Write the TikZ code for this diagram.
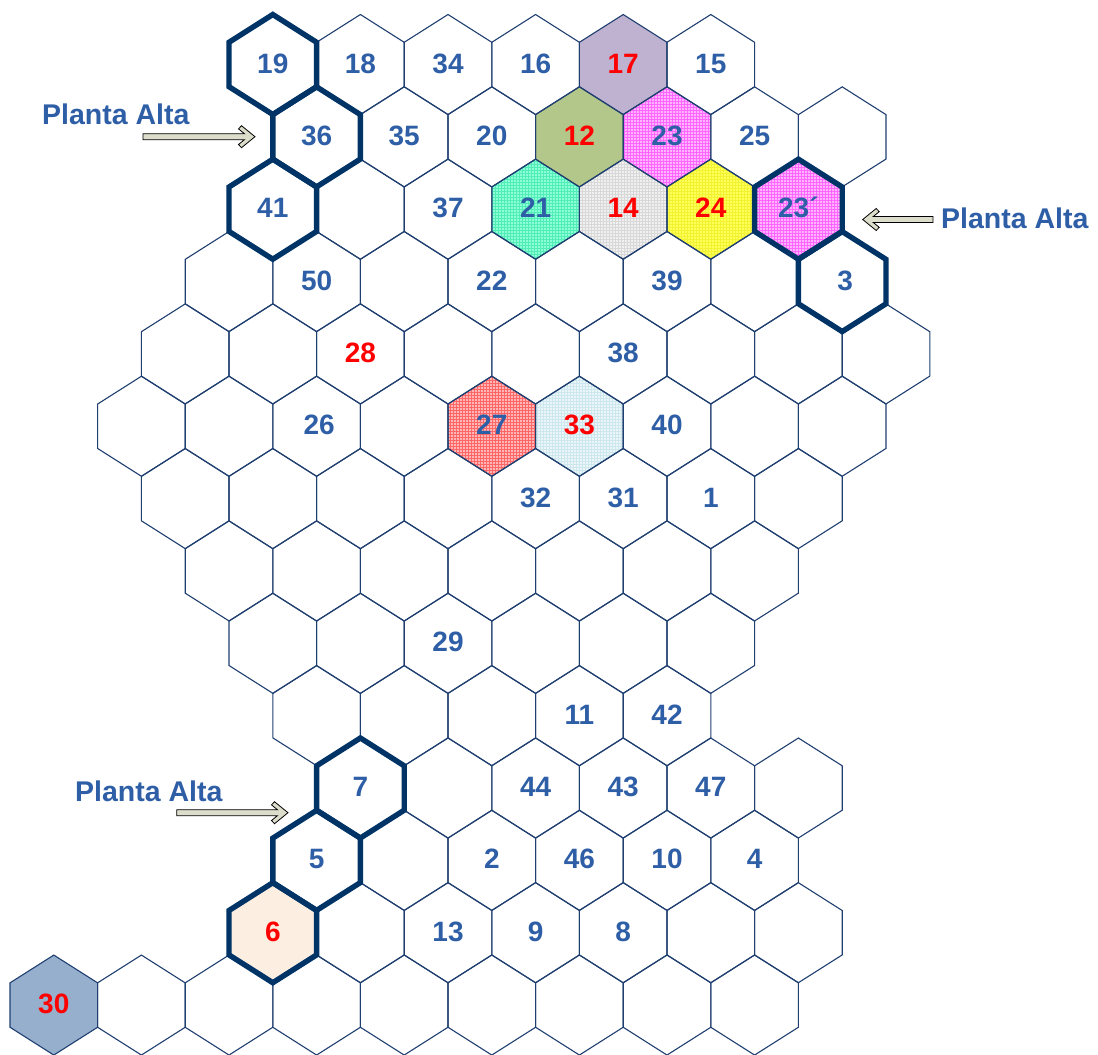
\documentclass[tikz,border=0pt]{standalone}
\usepackage{fontspec}
\setmainfont{Liberation Sans}
\usetikzlibrary{patterns}
\definecolor{lblue}{HTML}{2E5EA6}
\definecolor{lred}{HTML}{FF0000}
\definecolor{hexedge}{HTML}{1F3F70}
\definecolor{thickedge}{HTML}{003366}
\definecolor{arrowfill}{HTML}{DCDDCA}
\definecolor{cSeventeen}{HTML}{BFB1D0}
\definecolor{cTwelve}{HTML}{B3C78A}
\definecolor{cMagBase}{HTML}{FFB4FF}
\definecolor{cMagLine}{HTML}{FF66FF}
\definecolor{cAquaBase}{HTML}{8CFFDA}
\definecolor{cAquaLine}{HTML}{50EDB5}
\definecolor{cGrayBase}{HTML}{F0F0F0}
\definecolor{cGrayLine}{HTML}{D8D8D8}
\definecolor{cYelBase}{HTML}{FFFF5A}
\definecolor{cYelLine}{HTML}{F2F230}
\definecolor{cRedBase}{HTML}{FFB6B6}
\definecolor{cRedLine}{HTML}{FF6666}
\definecolor{cLBBase}{HTML}{ECF6F9}
\definecolor{cLBLine}{HTML}{CDE7EF}
\definecolor{cPeach}{HTML}{FDEEE2}
\definecolor{cSteel}{HTML}{95AFCD}
\newcommand\hexcell[3]{%
  \pgfmathsetmacro\hx{10+43.8*#2}%
  \pgfmathsetmacro\hy{64.5+72.35*(#3-1)}%
  \path[#1] (\hx,\hy-50) -- (\hx+43.8,\hy-22.2) -- (\hx+43.8,\hy+22.2) -- (\hx,\hy+50) -- (\hx-43.8,\hy+22.2) -- (\hx-43.8,\hy-22.2) -- cycle;}
\newcommand\hexlabel[5]{%
  \pgfmathsetmacro\hx{10+43.8*#2}%
  \pgfmathsetmacro\hy{64.5+72.35*(#3-1)+8.5}%
  \node[lbl, text=#4] (#1) at (\hx,\hy) {#5};}
\newcommand\plarrow[3]{%
  \begin{scope}[shift={(#1)}, xscale=#3]
  \filldraw[arrowbody] (0,0) -- (-13.5,-11) -- (-16.5,-7.8) -- (-10.6,-3) -- (-#2,-3) -- (-#2,3) -- (-10.6,3) -- (-16.5,7.8) -- (-13.5,11) -- cycle;
  \end{scope}}
\tikzset{
  lbl/.style={font=\bfseries\fontsize{28}{28}\selectfont, inner sep=0pt, anchor=base},
  plabel/.style={font=\bfseries\fontsize{28.5}{28.5}\selectfont, inner sep=0pt, anchor=base west, text=lblue},
  thin hex/.style={draw=hexedge, line width=1.1pt, line join=miter},
  thick hex/.style={draw=thickedge, line width=5.4pt, line join=miter},
  arrowbody/.style={fill=arrowfill, draw=black, line width=0.8pt, line join=miter}
}
\begin{document}
\begin{tikzpicture}[x=1pt, y=-1pt]
\useasboundingbox (0,0) rectangle (1098,1055);
% fills
\hexcell{fill=cSeventeen}{14}{1}
\hexcell{fill=cTwelve}{13}{2}
\hexcell{fill=cMagBase}{15}{2}
\hexcell{pattern=grid, pattern color=cMagLine}{15}{2}
\hexcell{fill=cMagBase}{18}{3}
\hexcell{pattern=grid, pattern color=cMagLine}{18}{3}
\hexcell{fill=cAquaBase}{12}{3}
\hexcell{pattern=grid, pattern color=cAquaLine}{12}{3}
\hexcell{fill=cGrayBase}{14}{3}
\hexcell{pattern=grid, pattern color=cGrayLine}{14}{3}
\hexcell{fill=cYelBase}{16}{3}
\hexcell{pattern=grid, pattern color=cYelLine}{16}{3}
\hexcell{fill=cRedBase}{11}{6}
\hexcell{pattern=grid, pattern color=cRedLine}{11}{6}
\hexcell{fill=cLBBase}{13}{6}
\hexcell{pattern=grid, pattern color=cLBLine}{13}{6}
\hexcell{fill=cPeach}{6}{13}
\hexcell{fill=cSteel}{1}{14}
% thin grid
\foreach \r/\ka/\kb in {1/6/16,2/7/19,3/6/18,4/5/19,5/4/20,6/3/19,7/4/18,8/5/17,9/6/16,10/7/15,11/8/18,12/7/17,13/6/18,14/1/17}{
  \pgfmathtruncatemacro\kn{\ka+2}
  \foreach \k in {\ka,\kn,...,\kb}{\hexcell{thin hex}{\k}{\r}}
}
% thick outlines
\foreach \k/\r in {6/1,7/2,6/3,18/3,19/4,8/11,7/12,6/13}{\hexcell{thick hex}{\k}{\r}}
% labels
\hexlabel{h19}{6}{1}{lblue}{19}
\hexlabel{h18}{8}{1}{lblue}{18}
\hexlabel{h34}{10}{1}{lblue}{34}
\hexlabel{h16}{12}{1}{lblue}{16}
\hexlabel{h17}{14}{1}{lred}{17}
\hexlabel{h15}{16}{1}{lblue}{15}
\hexlabel{h36}{7}{2}{lblue}{36}
\hexlabel{h35}{9}{2}{lblue}{35}
\hexlabel{h20}{11}{2}{lblue}{20}
\hexlabel{h12}{13}{2}{lred}{12}
\hexlabel{h23}{15}{2}{lblue}{23}
\hexlabel{h25}{17}{2}{lblue}{25}
\hexlabel{h41}{6}{3}{lblue}{41}
\hexlabel{h37}{10}{3}{lblue}{37}
\hexlabel{h21}{12}{3}{lblue}{21}
\hexlabel{h14}{14}{3}{lred}{14}
\hexlabel{h24}{16}{3}{lred}{24}
\hexlabel{h23b}{18}{3}{lblue}{23´}
\hexlabel{h50}{7}{4}{lblue}{50}
\hexlabel{h22}{11}{4}{lblue}{22}
\hexlabel{h39}{15}{4}{lblue}{39}
\hexlabel{h3}{19.07}{4}{lblue}{3}
\hexlabel{h28}{8}{5}{lred}{28}
\hexlabel{h38}{14}{5}{lblue}{38}
\hexlabel{h26}{7.06}{6}{lblue}{26}
\hexlabel{h27}{11}{6}{lblue}{27}
\hexlabel{h33}{13}{6}{lred}{33}
\hexlabel{h40}{15}{6}{lblue}{40}
\hexlabel{h32}{12}{7}{lblue}{32}
\hexlabel{h31}{14}{7}{lblue}{31}
\hexlabel{h1}{16}{7}{lblue}{1}
\hexlabel{h29}{10}{9}{lblue}{29}
\hexlabel{h11}{13}{10}{lblue}{11}
\hexlabel{h42}{15}{10}{lblue}{42}
\hexlabel{h7}{8}{11}{lblue}{7}
\hexlabel{h44}{12}{11}{lblue}{44}
\hexlabel{h43}{14}{11}{lblue}{43}
\hexlabel{h47}{16}{11}{lblue}{47}
\hexlabel{h5}{7}{12}{lblue}{5}
\hexlabel{h2}{11}{12}{lblue}{2}
\hexlabel{h46}{13}{12}{lblue}{46}
\hexlabel{h10}{15}{12}{lblue}{10}
\hexlabel{h4}{17}{12}{lblue}{4}
\hexlabel{h6}{6}{13}{lred}{6}
\hexlabel{h13}{10}{13}{lblue}{13}
\hexlabel{h9}{12}{13}{lblue}{9}
\hexlabel{h8}{14}{13}{lblue}{8}
\hexlabel{h30}{1}{14}{lred}{30}
% Planta Alta labels
\node[plabel] (pa1) at (42,124) {Planta Alta};
\node[plabel] (pa2) at (941,228.3) {Planta Alta};
\node[plabel] (pa3) at (75,801) {Planta Alta};
% arrows
\coordinate (a1tip) at (255,136.7);
\coordinate (a2tip) at (862.7,219.5);
\coordinate (a3tip) at (288,812.7);
\plarrow{a1tip}{112}{1}
\plarrow{a2tip}{70.3}{-1}
\plarrow{a3tip}{111.3}{1}
\end{tikzpicture}
\end{document}
